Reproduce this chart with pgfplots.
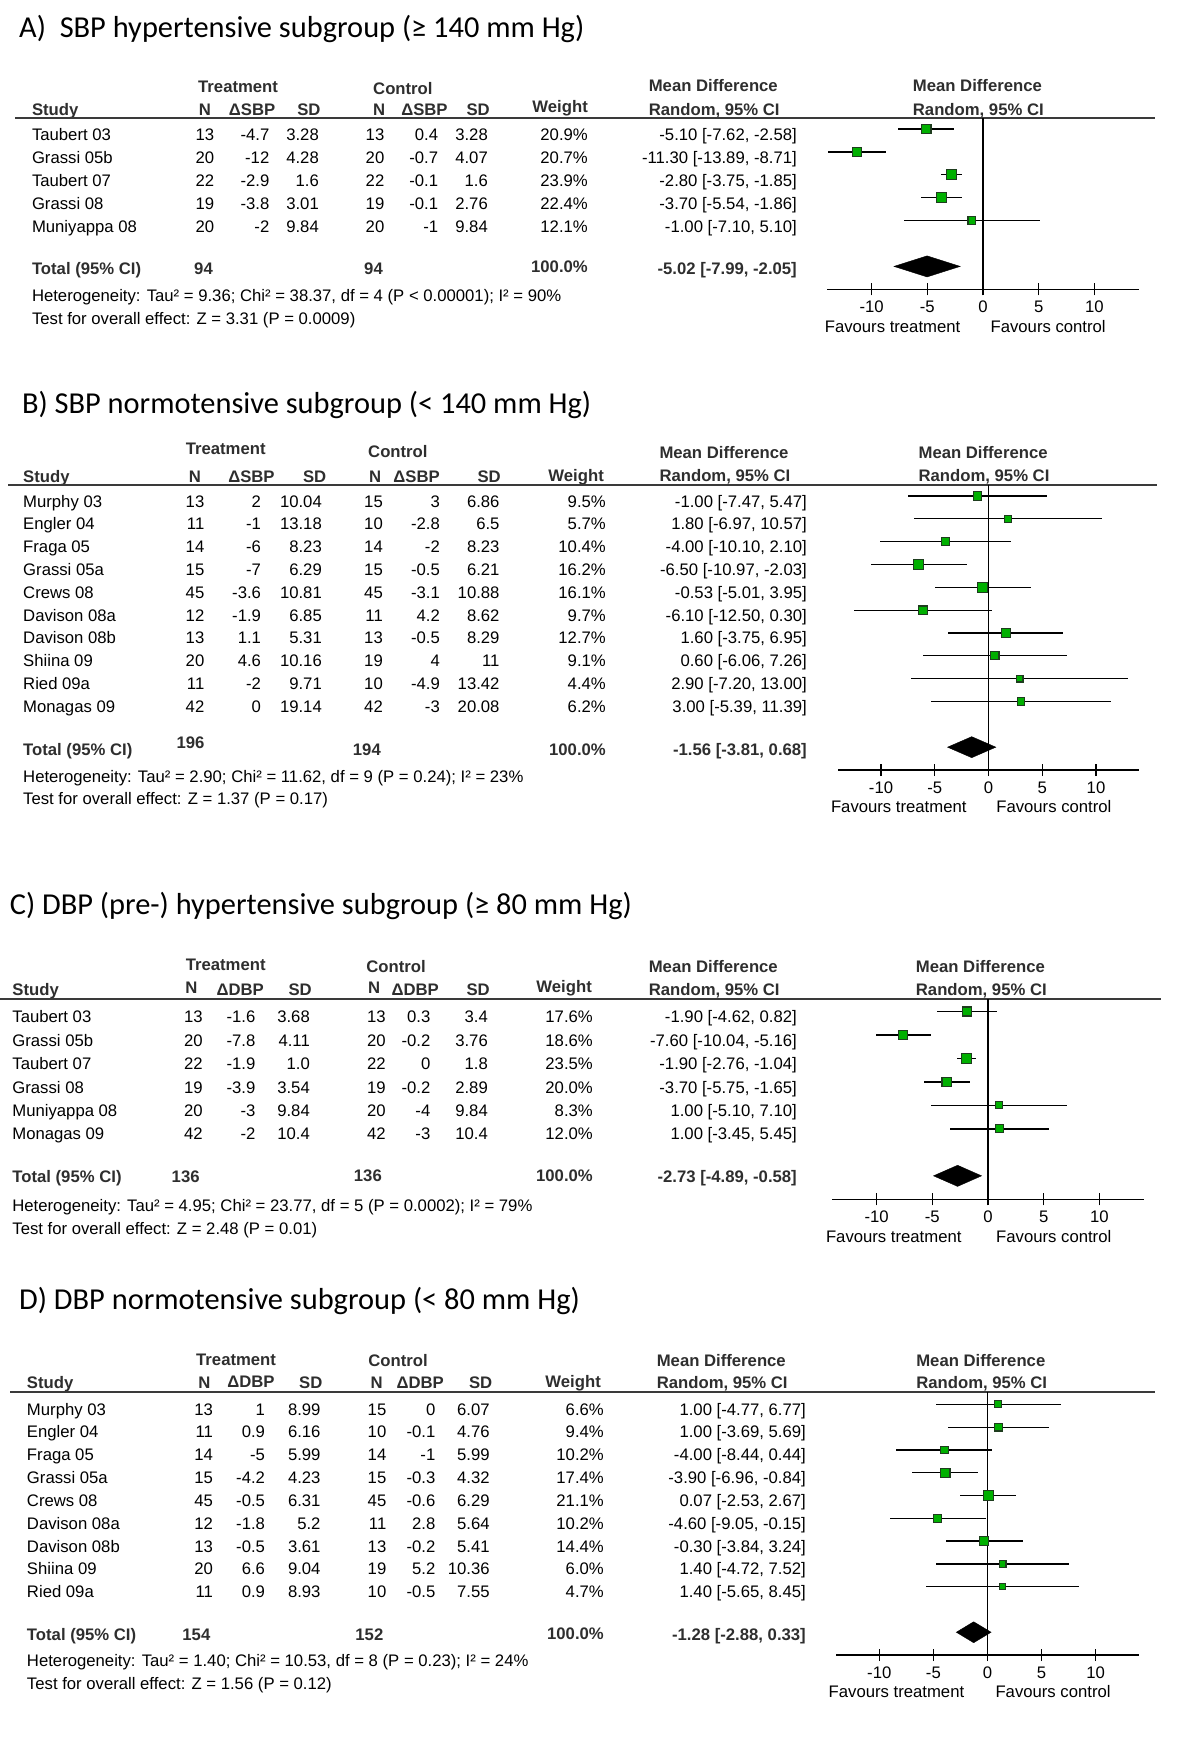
\documentclass[border=0pt]{standalone}
\usepackage{fontspec}
\setmainfont{Liberation Sans}
\newfontfamily\titlefont{Carlito}
\usepackage{pgfplots}
\pgfplotsset{compat=1.18}
\usepackage{pgfplotstable}

\definecolor{sqgreen}{HTML}{00B000}
\definecolor{sqedge}{HTML}{1E3D1E}
\definecolor{rulegray}{HTML}{3A3A3A}
\definecolor{hdrgray}{HTML}{2E2E2E}

\newcommand\fs{\fontsize{16.7}{20}\selectfont}
\newcommand\tfs{\titlefont\fontsize{30.4}{36}\selectfont}

% forest data: row, mean difference, 95% CI, weight (%)
\pgfplotstableread{
r md lo hi w
1 -5.10 -7.62 -2.58 20.9
2 -11.30 -13.89 -8.71 20.7
3 -2.80 -3.75 -1.85 23.9
4 -3.70 -5.54 -1.86 22.4
5 -1.00 -7.10 5.10 12.1
}\forestA
\pgfplotstableread{
r md lo hi w
1 -1.00 -7.47 5.47 9.5
2 1.80 -6.97 10.57 5.7
3 -4.00 -10.10 2.10 10.4
4 -6.50 -10.97 -2.03 16.2
5 -0.53 -5.01 3.95 16.1
6 -6.10 -12.50 0.30 9.7
7 1.60 -3.75 6.95 12.7
8 0.60 -6.06 7.26 9.1
9 2.90 -7.20 13.00 4.4
10 3.00 -5.39 11.39 6.2
}\forestB
\pgfplotstableread{
r md lo hi w
1 -1.90 -4.62 0.82 17.6
2 -7.60 -10.04 -5.16 18.6
3 -1.90 -2.76 -1.04 23.5
4 -3.70 -5.75 -1.65 20.0
5 1.00 -5.10 7.10 8.3
6 1.00 -3.45 5.45 12.0
}\forestC
\pgfplotstableread{
r md lo hi w
1 1.00 -4.77 6.77 6.6
2 1.00 -3.69 5.69 9.4
3 -4.00 -8.44 0.44 10.2
4 -3.90 -6.96 -0.84 17.4
5 0.07 -2.53 2.67 21.1
6 -4.60 -9.05 -0.15 10.2
7 -0.30 -3.84 3.24 14.4
8 1.40 -4.72 7.52 6.0
9 1.40 -5.65 8.45 4.7
}\forestD

\pgfplotsset{
  forest/.style={scale only axis, anchor=south west,
    xmin=-14, xmax=14, y dir=reverse,
    axis x line*=bottom, axis y line=none,
    xtick={-10,-5,0,5,10}, xticklabels={-10,-5,0,5,10},
    tick align=center, major tick length=12pt,
    x axis line style={line width=1.3pt, black},
    every tick/.style={black, line width=1.3pt},
    xticklabel style={font=\fs, anchor=base, yshift=-17pt, inner sep=0pt},
    clip=false},
  ci/.style={draw=none, mark=none,
    error bars/.cd, x dir=both, x explicit, error mark=none,
    error bar style={draw=black, line width=1.3pt}},
  squares/.style={only marks, mark=square*, scatter,
    scatter/use mapped color={draw=sqedge, fill=sqgreen},
    mark options={line width=1.1pt},
    visualization depends on={\thisrow{w} \as \wt},
    scatter/@pre marker code/.append style={/tikz/mark size={2.7+2.4*\wt/#1}}},
}

% table text helpers (coordinates are pixels from the top left)
\newcommand\TL[3]{\node[tbl,anchor=base west] at (#1,#2+6) {#3};}
\newcommand\TR[3]{\node[tbl,anchor=base east] at (#1,#2+6) {#3};}
\newcommand\BL[3]{\node[tbl,anchor=base west,text=hdrgray,font=\fs\bfseries] at (#1,#2+6) {#3};}
\newcommand\BR[3]{\node[tbl,anchor=base east,text=hdrgray,font=\fs\bfseries] at (#1,#2+6) {#3};}
\newcommand\BC[3]{\node[tbl,anchor=base,text=hdrgray,font=\fs\bfseries] at (#1,#2+6) {#3};}
\newcommand\cols[9]{\def\cS{#1}\def\cNt{#2}\def\cDt{#3}\def\cSDt{#4}\def\cNc{#5}\def\cDc{#6}\def\cSDc{#7}\def\cW{#8}\def\cCI{#9}}
\newcommand\startrows[2]{\gdef\ry{#1}\gdef\rstep{#2}}
\newcommand\trow[9]{%
  \TL{\cS}{\ry}{#1}\TR{\cNt}{\ry}{#2}\TR{\cDt}{\ry}{#3}\TR{\cSDt}{\ry}{#4}%
  \TR{\cNc}{\ry}{#5}\TR{\cDc}{\ry}{#6}\TR{\cSDc}{\ry}{#7}\TR{\cW}{\ry}{#8}\TR{\cCI}{\ry}{#9}%
  \pgfmathsetmacro\ry{\ry+\rstep}\global\let\ry\ry}

\begin{document}
\begin{tikzpicture}[x=1pt,y=-1pt,
  tbl/.style={inner sep=0pt, font=\fs, text=black},
  rule/.style={draw=rulegray, line width=2pt}]
\path[use as bounding box] (0,0) rectangle (1200,1750);

% ---------------- A ----------------
\node[anchor=base west, inner sep=0pt] at (19,38) {\tfs A)\ \ SBP hypertensive subgroup (≥ 140 mm Hg)};
\BL{198}{86.7}{Treatment}\BL{373}{88.3}{Control}\BL{648.6}{86}{Mean Difference}\BL{912.7}{86}{Mean Difference}
\BL{31.8}{109.3}{Study}\BC{205}{109.3}{N}\BR{275.5}{109.3}{ΔSBP}\BR{320.7}{109.3}{SD}
\BL{373}{110}{N}\BR{447.8}{109.3}{ΔSBP}\BR{490}{109.3}{SD}\BR{588}{107}{Weight}
\BL{648.6}{109.3}{Random, 95\% CI}\BL{912.7}{109.3}{Random, 95\% CI}
\draw[rule] (15,118) -- (1155,118);
\cols{31.8}{214.3}{269.5}{319}{384.5}{438.3}{488}{588}{797}
\startrows{135}{22.9}
\trow{Taubert 03}{13}{-4.7}{3.28}{13}{0.4}{3.28}{20.9\%}{-5.10 [-7.62, -2.58]}
\trow{Grassi 05b}{20}{-12}{4.28}{20}{-0.7}{4.07}{20.7\%}{-11.30 [-13.89, -8.71]}
\trow{Taubert 07}{22}{-2.9}{1.6}{22}{-0.1}{1.6}{23.9\%}{-2.80 [-3.75, -1.85]}
\trow{Grassi 08}{19}{-3.8}{3.01}{19}{-0.1}{2.76}{22.4\%}{-3.70 [-5.54, -1.86]}
\trow{Muniyappa 08}{20}{-2}{9.84}{20}{-1}{9.84}{12.1\%}{-1.00 [-7.10, 5.10]}
\BL{31.8}{268.3}{Total (95\% CI)}\BR{213}{268.3}{94}\BR{383}{268.3}{94}\BR{588}{266.7}{100.0\%}
\BR{797}{268.5}{-5.02 [-7.99, -2.05]}
\TL{31.8}{295}{Heterogeneity: Tau² = 9.36; Chi² = 38.37, df = 4 (P < 0.00001); I² = 90\%}
\TL{31.8}{318.3}{Test for overall effect: Z = 3.31 (P = 0.0009)}
\TL{824.6}{326.7}{Favours treatment}\TL{990.4}{326.7}{Favours control}
\begin{axis}[forest, at={(827pt,-289.3pt)}, width=312pt, height=171.3pt, ymin=0.52, ymax=8]
  \addplot[black, line width=1.3pt] coordinates {(0,0.52) (0,8)};
  \addplot[ci] table[x=md, y=r, x error plus expr=\thisrow{hi}-\thisrow{md},
    x error minus expr=\thisrow{md}-\thisrow{lo}] {\forestA};
  \addplot[squares=23.9] table[x=md, y=r] {\forestA};
  \addplot[fill=black, draw=black] coordinates {(-7.99,7) (-5.02,6.54) (-2.05,7) (-5.02,7.46)} -- cycle;
\end{axis}

% ---------------- B ----------------
\node[anchor=base west, inner sep=0pt] at (21.8,413) {\tfs B) SBP normotensive subgroup (< 140 mm Hg)};
\BL{185.6}{448.3}{Treatment}\BL{368}{451.7}{Control}\BL{659.3}{452.7}{Mean Difference}\BL{918.4}{452.7}{Mean Difference}
\BL{23}{476}{Study}\BC{195}{476}{N}\BR{274.8}{476}{ΔSBP}\BR{326.4}{476}{SD}
\BL{369}{476}{N}\BR{440}{476}{ΔSBP}\BR{501}{476}{SD}\BR{604}{475}{Weight}
\BL{659.3}{475}{Random, 95\% CI}\BL{918.4}{475}{Random, 95\% CI}
\draw[rule] (8,485) -- (1157,485);
\cols{23}{204.5}{261.2}{322}{383}{440}{499.7}{606}{807}
\startrows{501}{22.8}
\trow{Murphy 03}{13}{2}{10.04}{15}{3}{6.86}{9.5\%}{-1.00 [-7.47, 5.47]}
\trow{Engler 04}{11}{-1}{13.18}{10}{-2.8}{6.5}{5.7\%}{1.80 [-6.97, 10.57]}
\trow{Fraga 05}{14}{-6}{8.23}{14}{-2}{8.23}{10.4\%}{-4.00 [-10.10, 2.10]}
\trow{Grassi 05a}{15}{-7}{6.29}{15}{-0.5}{6.21}{16.2\%}{-6.50 [-10.97, -2.03]}
\trow{Crews 08}{45}{-3.6}{10.81}{45}{-3.1}{10.88}{16.1\%}{-0.53 [-5.01, 3.95]}
\trow{Davison 08a}{12}{-1.9}{6.85}{11}{4.2}{8.62}{9.7\%}{-6.10 [-12.50, 0.30]}
\trow{Davison 08b}{13}{1.1}{5.31}{13}{-0.5}{8.29}{12.7\%}{1.60 [-3.75, 6.95]}
\trow{Shiina 09}{20}{4.6}{10.16}{19}{4}{11}{9.1\%}{0.60 [-6.06, 7.26]}
\trow{Ried 09a}{11}{-2}{9.71}{10}{-4.9}{13.42}{4.4\%}{2.90 [-7.20, 13.00]}
\trow{Monagas 09}{42}{0}{19.14}{42}{-3}{20.08}{6.2\%}{3.00 [-5.39, 11.39]}
\BL{23}{749.3}{Total (95\% CI)}\BR{204.7}{742.7}{196}\BR{381}{749.3}{194}\BR{606}{749}{100.0\%}
\BR{807}{749.3}{-1.56 [-3.81, 0.68]}
\TL{23}{776}{Heterogeneity: Tau² = 2.90; Chi² = 11.62, df = 9 (P = 0.24); I² = 23\%}
\TL{23}{798.3}{Test for overall effect: Z = 1.37 (P = 0.17)}
\TL{830.8}{806.7}{Favours treatment}\TL{996.1}{806.7}{Favours control}
\begin{axis}[forest, at={(838pt,-770pt)}, width=301pt, height=285pt, ymin=0.52, ymax=13]
  \addplot[black, line width=1.3pt] coordinates {(0,0.52) (0,13)};
  \addplot[ci] table[x=md, y=r, x error plus expr=\thisrow{hi}-\thisrow{md},
    x error minus expr=\thisrow{md}-\thisrow{lo}] {\forestB};
  \addplot[squares=16.2] table[x=md, y=r] {\forestB};
  \addplot[fill=black, draw=black] coordinates {(-3.81,12) (-1.56,11.54) (0.68,12) (-1.56,12.46)} -- cycle;
\end{axis}

% ---------------- C ----------------
\node[anchor=base west, inner sep=0pt] at (9.6,914.7) {\tfs C) DBP (pre-) hypertensive subgroup (≥ 80 mm Hg)};
\BL{185.6}{964}{Treatment}\BL{366.2}{966}{Control}\BL{648.6}{966}{Mean Difference}\BL{915.7}{966}{Mean Difference}
\BL{12.2}{989.3}{Study}\BC{191.3}{987}{N}\BR{264}{989.3}{ΔDBP}\BR{312}{989.3}{SD}
\BL{368}{987.3}{N}\BR{439}{989.3}{ΔDBP}\BR{490}{989.3}{SD}\BR{592}{986.7}{Weight}
\BL{648.6}{989.3}{Random, 95\% CI}\BL{915.7}{989.3}{Random, 95\% CI}
\draw[rule] (0,999) -- (1161,999);
\cols{12.2}{202.8}{255.6}{310}{385.8}{430.5}{488}{593}{797}
\startrows{1016.7}{23.45}
\trow{Taubert 03}{13}{-1.6}{3.68}{13}{0.3}{3.4}{17.6\%}{-1.90 [-4.62, 0.82]}
\trow{Grassi 05b}{20}{-7.8}{4.11}{20}{-0.2}{3.76}{18.6\%}{-7.60 [-10.04, -5.16]}
\trow{Taubert 07}{22}{-1.9}{1.0}{22}{0}{1.8}{23.5\%}{-1.90 [-2.76, -1.04]}
\trow{Grassi 08}{19}{-3.9}{3.54}{19}{-0.2}{2.89}{20.0\%}{-3.70 [-5.75, -1.65]}
\trow{Muniyappa 08}{20}{-3}{9.84}{20}{-4}{9.84}{8.3\%}{1.00 [-5.10, 7.10]}
\trow{Monagas 09}{42}{-2}{10.4}{42}{-3}{10.4}{12.0\%}{1.00 [-3.45, 5.45]}
\BL{12.2}{1176.7}{Total (95\% CI)}\BR{199.8}{1176.7}{136}\BR{382}{1175}{136}\BR{593}{1175}{100.0\%}
\BR{797}{1176.7}{-2.73 [-4.89, -0.58]}
\TL{12.2}{1205}{Heterogeneity: Tau² = 4.95; Chi² = 23.77, df = 5 (P = 0.0002); I² = 79\%}
\TL{12.2}{1228.3}{Test for overall effect: Z = 2.48 (P = 0.01)}
\TL{825.8}{1236}{Favours treatment}\TL{996}{1236}{Favours control}
\begin{axis}[forest, at={(832pt,-1199.3pt)}, width=312pt, height=200.3pt, ymin=0.47, ymax=9]
  \addplot[black, line width=1.3pt] coordinates {(0,0.47) (0,9)};
  \addplot[ci] table[x=md, y=r, x error plus expr=\thisrow{hi}-\thisrow{md},
    x error minus expr=\thisrow{md}-\thisrow{lo}] {\forestC};
  \addplot[squares=23.5] table[x=md, y=r] {\forestC};
  \addplot[fill=black, draw=black] coordinates {(-4.89,8) (-2.73,7.55) (-0.58,8) (-2.73,8.45)} -- cycle;
\end{axis}

% ---------------- D ----------------
\node[anchor=base west, inner sep=0pt] at (19,1309.7) {\tfs D) DBP normotensive subgroup (< 80 mm Hg)};
\BL{196}{1359.3}{Treatment}\BL{368.2}{1360}{Control}\BL{656.6}{1360}{Mean Difference}\BL{916.1}{1360}{Mean Difference}
\BL{26.8}{1382.7}{Study}\BC{204.4}{1382.7}{N}\BR{274.8}{1381.7}{ΔDBP}\BR{322.6}{1382.7}{SD}
\BL{370.5}{1382.7}{N}\BR{444}{1382.7}{ΔDBP}\BR{492.5}{1382.7}{SD}\BR{601}{1381.7}{Weight}
\BL{656.6}{1382.7}{Random, 95\% CI}\BL{916.1}{1382.7}{Random, 95\% CI}
\draw[rule] (10,1392.3) -- (1155,1392.3);
\cols{26.8}{213.2}{265.2}{320.7}{386.5}{435.5}{489.9}{604}{806}
\startrows{1409}{22.84}
\trow{Murphy 03}{13}{1}{8.99}{15}{0}{6.07}{6.6\%}{1.00 [-4.77, 6.77]}
\trow{Engler 04}{11}{0.9}{6.16}{10}{-0.1}{4.76}{9.4\%}{1.00 [-3.69, 5.69]}
\trow{Fraga 05}{14}{-5}{5.99}{14}{-1}{5.99}{10.2\%}{-4.00 [-8.44, 0.44]}
\trow{Grassi 05a}{15}{-4.2}{4.23}{15}{-0.3}{4.32}{17.4\%}{-3.90 [-6.96, -0.84]}
\trow{Crews 08}{45}{-0.5}{6.31}{45}{-0.6}{6.29}{21.1\%}{0.07 [-2.53, 2.67]}
\trow{Davison 08a}{12}{-1.8}{5.2}{11}{2.8}{5.64}{10.2\%}{-4.60 [-9.05, -0.15]}
\trow{Davison 08b}{13}{-0.5}{3.61}{13}{-0.2}{5.41}{14.4\%}{-0.30 [-3.84, 3.24]}
\trow{Shiina 09}{20}{6.6}{9.04}{19}{5.2}{10.36}{6.0\%}{1.40 [-4.72, 7.52]}
\trow{Ried 09a}{11}{0.9}{8.93}{10}{-0.5}{7.55}{4.7\%}{1.40 [-5.65, 8.45]}
\BL{26.8}{1634}{Total (95\% CI)}\BR{210.5}{1634}{154}\BR{383.5}{1634}{152}\BR{604}{1633}{100.0\%}
\BR{806}{1634}{-1.28 [-2.88, 0.33]}
\TL{26.8}{1660.7}{Heterogeneity: Tau² = 1.40; Chi² = 10.53, df = 8 (P = 0.23); I² = 24\%}
\TL{26.8}{1683.3}{Test for overall effect: Z = 1.56 (P = 0.12)}
\TL{828.5}{1691.7}{Favours treatment}\TL{995.3}{1691.7}{Favours control}
\begin{axis}[forest, at={(836pt,-1655pt)}, width=303pt, height=262.7pt, ymin=0.47, ymax=12]
  \addplot[black, line width=1.3pt] coordinates {(0,0.47) (0,12)};
  \addplot[ci] table[x=md, y=r, x error plus expr=\thisrow{hi}-\thisrow{md},
    x error minus expr=\thisrow{md}-\thisrow{lo}] {\forestD};
  \addplot[squares=21.1] table[x=md, y=r] {\forestD};
  \addplot[fill=black, draw=black] coordinates {(-2.88,11) (-1.28,10.54) (0.33,11) (-1.28,11.46)} -- cycle;
\end{axis}
\end{tikzpicture}
\end{document}
